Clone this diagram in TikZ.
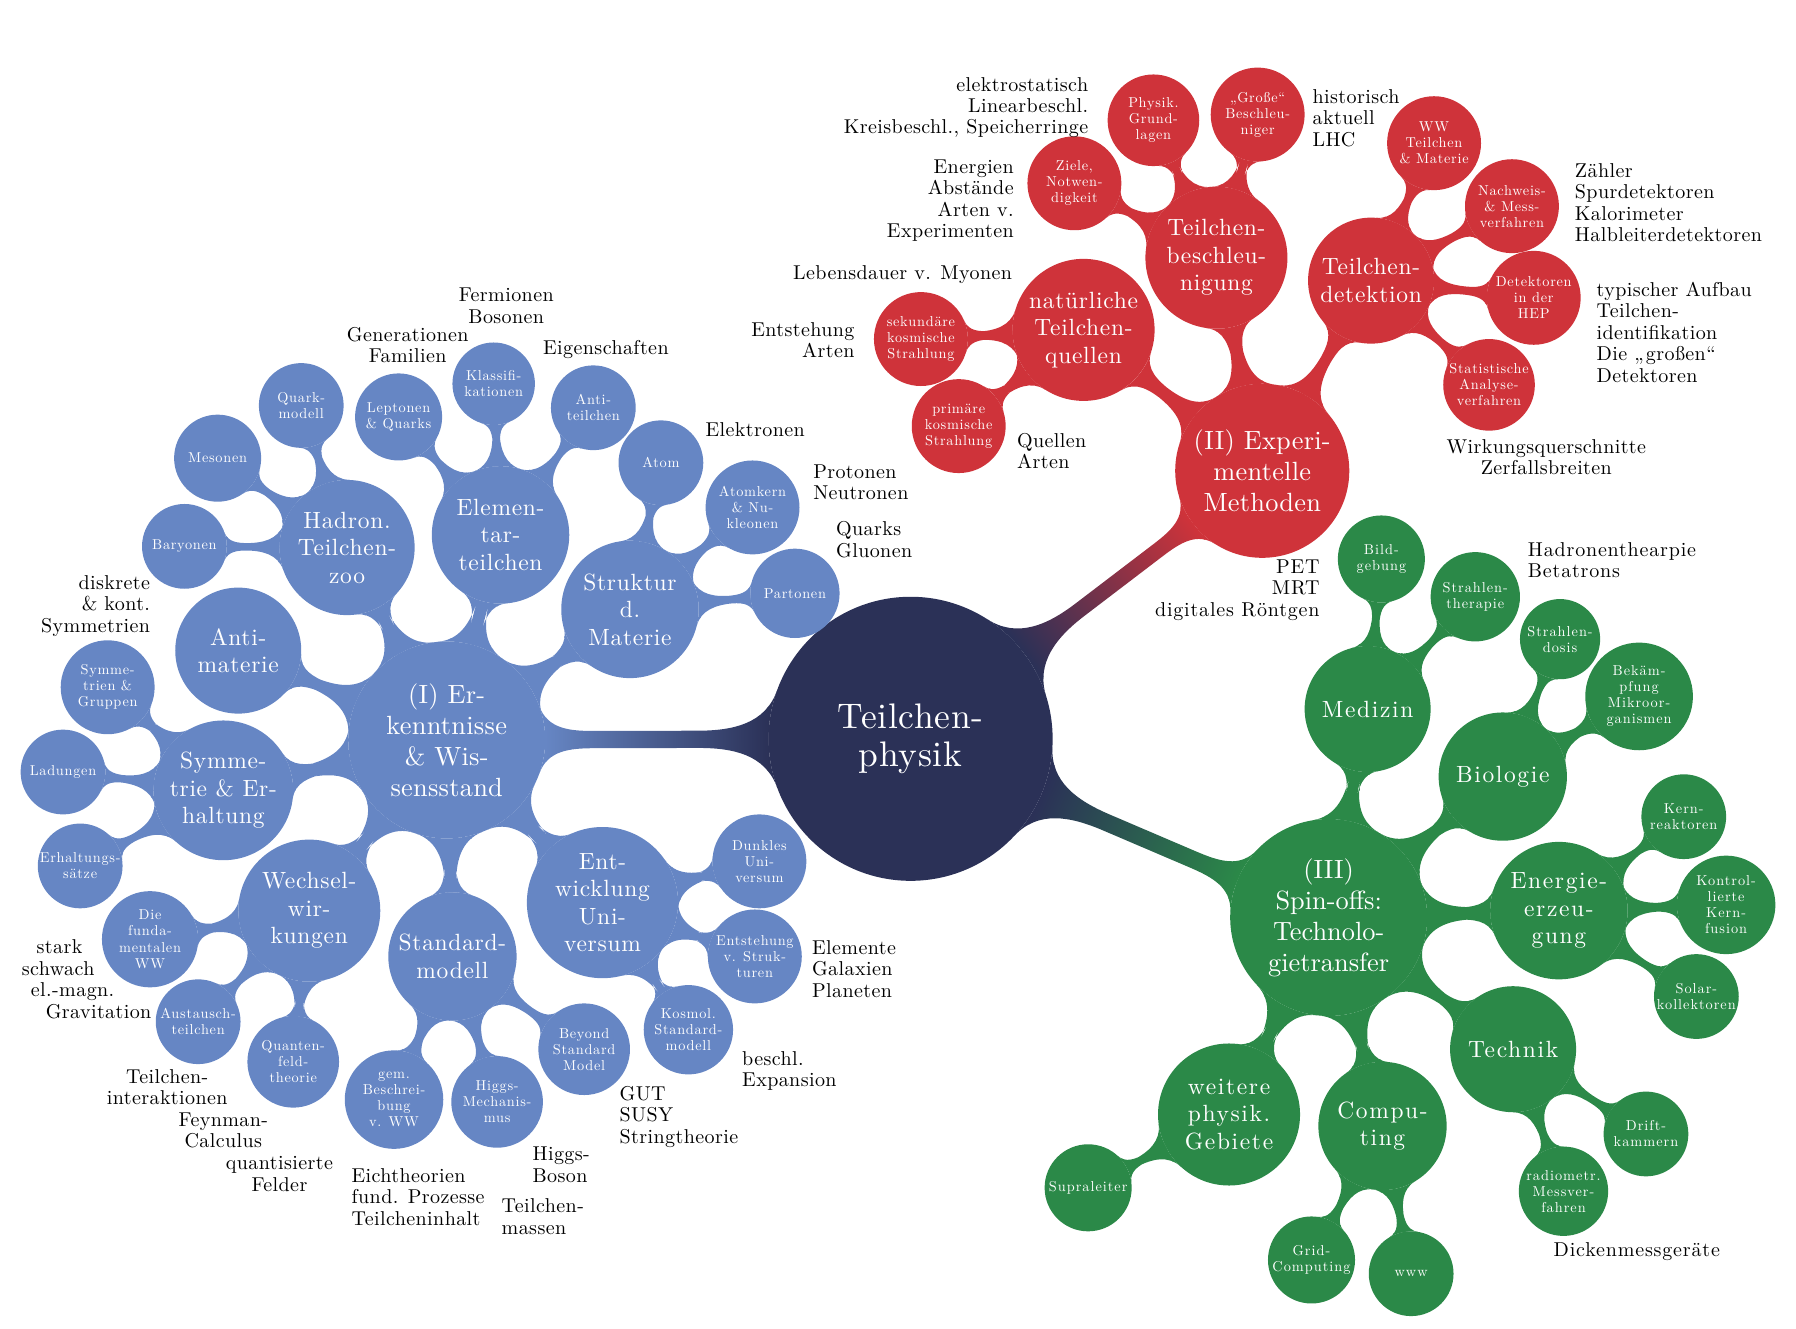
\documentclass[tikz,border=0pt]{standalone}
\usepackage{fontspec}
\setmainfont{lmroman10-regular.otf}
\usepackage{tikz}
\usetikzlibrary{mindmap}
\definecolor{navyc}{RGB}{43,49,87}
\definecolor{blueb}{RGB}{102,134,196}
\definecolor{redb}{RGB}{207,51,58}
\definecolor{greenb}{RGB}{43,137,72}
\newcommand\lsp[1]{\addfontfeatures{LetterSpace=#1}}
\tikzset{bub/.style={circle,inner sep=0pt,outer sep=0pt,align=center,text=white,text width={}}}
\tikzset{hub/.style={bub,minimum size=172pt,font=\fontsize{23}{27}\selectfont\lsp{1}}}
\tikzset{topic/.style={bub,minimum size=120pt,font=\fontsize{20.5}{24}\selectfont\lsp{3}}}
\tikzset{twig/.style={bub,minimum size=76pt,font=\fontsize{12.5}{14}\selectfont\lsp{5}}}
\tikzset{note/.style={inner sep=0pt,minimum size=0pt,text width={},font=\fontsize{17.5}{18.7}\selectfont\lsp{2}}}
\tikzset{gnote/.style={note,font=\fontsize{17.5}{18.7}\selectfont\lsp{4}}}
\tikzset{neck/.style={circle connection bar switch color=from (#1) to (#1)}}

\begin{document}
\begin{tikzpicture}[mindmap,x=1pt,y=-1pt]
\useasboundingbox (0,0) rectangle (1568,1160);

% Centre
\node[hub,fill=navyc,minimum size=248pt,font=\fontsize{31}{34}\selectfont\lsp{2}] (phys) at (795,645) {Teilchen-\\physik};

% (I) Erkenntnisse
\begin{scope}[bub/.append style={fill=blueb}]
\node[hub] (erk) at (390,646) {(I) Er-\\kenntnisse\\\& Wis-\\sensstand};
\node[topic,minimum size=118pt] (hadron) at (303,478) {Hadron.\\Teilchen-\\zoo};
\node[topic] (elem) at (437,467) {Elemen-\\tar-\\teilchen};
\node[topic] (struk) at (550,532) {Struktur\\d.\\Materie};
\node[topic,minimum size=110pt] (antim) at (208,568) {Anti-\\materie};
\node[topic,minimum size=122pt] (symm) at (195,690) {Symme-\\trie \& Er-\\haltung};
\node[topic,minimum size=124pt] (wechsel) at (270,795) {Wechsel-\\wir-\\kungen};
\node[topic,minimum size=112pt] (stdm) at (395,835) {Standard-\\modell};
\node[topic,minimum size=132pt] (entw) at (526,788) {Ent-\\wicklung\\Uni-\\versum};

\node[twig,minimum size=74pt] (quark) at (263,354) {Quark-\\modell};
\node[twig] (meson) at (190,400) {Mesonen};
\node[twig,minimum size=74pt] (baryon) at (161,477) {Baryonen};
\node[twig] (lepton) at (348,364) {Leptonen\\\& Quarks};
\node[twig,minimum size=72pt] (klass) at (431,335) {Klassifi-\\kationen};
\node[twig,minimum size=74pt] (antit) at (518,356) {Anti-\\teilchen};
\node[twig,minimum size=74pt] (atom) at (577,404) {Atom};
\node[twig,minimum size=82pt] (kern) at (657,443) {Atomkern\\\& Nu-\\kleonen};
\node[twig,minimum size=78pt] (parton) at (694,518) {Partonen};
\node[twig,minimum size=82pt] (symgr) at (94,600) {Symme-\\trien \&\\Gruppen};
\node[twig,minimum size=74pt] (ladung) at (55,674) {Ladungen};
\node[twig,minimum size=74pt] (erhalt) at (70,756) {Erhaltungs-\\sätze};
\node[twig,minimum size=84pt] (fund) at (131,820) {Die\\funda-\\mentalen\\WW};
\node[twig,minimum size=74pt] (austausch) at (173,892) {Austausch-\\teilchen};
\node[twig,minimum size=80pt] (qft) at (256,927) {Quanten-\\feld-\\theorie};
\node[twig,minimum size=86pt] (gem) at (344,960) {gem.\\Beschrei-\\bung\\v. WW};
\node[twig,minimum size=80pt] (higgs) at (434,962) {Higgs-\\Mechanis-\\mus};
\node[twig,minimum size=80pt] (bsm) at (510,916) {Beyond\\Standard\\Model};
\node[twig,minimum size=82pt] (dunkel) at (663,752) {Dunkles\\Uni-\\versum};
\node[twig,minimum size=82pt] (entst) at (659,835) {Entstehung\\v. Struk-\\turen};
\node[twig,minimum size=78pt] (kosmol) at (601,899) {Kosmol.\\Standard-\\modell};
\end{scope}

% (II) Experimentelle Methoden
\begin{scope}[bub/.append style={fill=redb}]
\node[hub,minimum size=152pt] (exp) at (1102,411) {(II) Experi-\\mentelle\\Methoden};
\node[topic,minimum size=124pt] (nat) at (946,288) {natürliche\\Teilchen-\\quellen};
\node[topic,minimum size=124pt] (beschl) at (1062,225) {Teilchen-\\beschleu-\\nigung};
\node[topic,minimum size=110pt] (detek) at (1197,245) {Teilchen-\\detektion};

\node[twig,minimum size=82pt] (sek) at (804,296) {sekundäre\\kosmische\\Strahlung};
\node[twig,minimum size=82pt] (prim) at (837,372) {primäre\\kosmische\\Strahlung};
\node[twig,minimum size=82pt] (ziele) at (938,160) {Ziele,\\Notwen-\\digkeit};
\node[twig,minimum size=80pt] (grund) at (1007,105) {Physik.\\Grund-\\lagen};
\node[twig,minimum size=82pt] (gross) at (1098,100) {„Große“\\Beschleu-\\niger};
\node[twig,minimum size=82pt] (wwtm) at (1252,125) {WW\\Teilchen\\\& Materie};
\node[twig,minimum size=82pt] (nachw) at (1320,180) {Nachweis-\\\& Mess-\\verfahren};
\node[twig,minimum size=82pt] (dethep) at (1339,260) {Detektoren\\in der\\HEP};
\node[twig,minimum size=80pt] (stat) at (1300,336) {Statistische\\Analyse-\\verfahren};
\end{scope}

% (III) Spin-offs
\begin{scope}[bub/.append style={fill=greenb},
  hub/.append style={font=\fontsize{23}{27}\selectfont},
  topic/.append style={font=\fontsize{20.5}{24}\selectfont\lsp{7}},
  twig/.append style={font=\fontsize{12.5}{14}\selectfont\lsp{7}}]
\node[hub] (spin) at (1160,801) {(III)\\Spin-offs:\\Technolo-\\gietransfer};
\node[topic,minimum size=110pt] (med) at (1194,619) {Medizin};
\node[topic,minimum size=112pt] (bio) at (1312,678) {Biologie};
\node[topic,minimum size=120pt] (energ) at (1361,795) {Energie-\\erzeu-\\gung};
\node[topic,minimum size=110pt] (tech) at (1321,916) {Technik};
\node[topic,minimum size=112pt] (comp) at (1207,983) {Compu-\\ting};
\node[topic,minimum size=124pt] (weit) at (1073,973) {weitere\\physik.\\Gebiete};

\node[twig] (bild) at (1206,488) {Bild-\\gebung};
\node[twig,minimum size=78pt] (therap) at (1288,521) {Strahlen-\\therapie};
\node[twig,minimum size=70pt] (dosis) at (1362,558) {Strahlen-\\dosis};
\node[twig,minimum size=94pt] (bekampf) at (1431,608) {Bekäm-\\pfung\\Mikroor-\\ganismen};
\node[twig,minimum size=74pt] (reakt) at (1470,713) {Kern-\\reaktoren};
\node[twig,minimum size=86pt] (fusion) at (1507,790) {Kontrol-\\lierte\\Kern-\\fusion};
\node[twig,minimum size=74pt] (solar) at (1481,870) {Solar-\\kollektoren};
\node[twig,minimum size=74pt] (drift) at (1437,990) {Drift-\\kammern};
\node[twig,minimum size=78pt] (radio) at (1365,1040) {radiometr.\\Messver-\\fahren};
\node[twig] (grid) at (1145,1100) {Grid-\\Computing};
\node[twig,minimum size=74pt] (www) at (1232,1112) {www};
\node[twig,minimum size=76pt] (supra) at (950,1037) {Supraleiter};
\end{scope}

% Connections from the centre
\begin{scope}[line width=16pt]
\path (phys) to[circle connection bar switch color=from (navyc) to (blueb)] (erk);
\path (phys) to[circle connection bar switch color=from (navyc) to (redb)] (exp);
\path (phys) to[circle connection bar switch color=from (navyc) to (greenb)] (spin);
\end{scope}

% Hub to topic
\begin{scope}[line width=20pt]
\path (erk) to[neck=blueb] (hadron);
\path (erk) to[neck=blueb] (elem);
\path (erk) to[neck=blueb] (struk);
\path (erk) to[neck=blueb] (antim);
\path (erk) to[neck=blueb] (symm);
\path (erk) to[neck=blueb] (wechsel);
\path (erk) to[neck=blueb] (stdm);
\path (erk) to[neck=blueb] (entw);
\path (exp) to[neck=redb] (nat);
\path (exp) to[neck=redb] (beschl);
\path (exp) to[neck=redb] (detek);
\path (spin) to[neck=greenb] (med);
\path (spin) to[neck=greenb] (bio);
\path (spin) to[neck=greenb] (energ);
\path (spin) to[neck=greenb] (tech);
\path (spin) to[neck=greenb] (comp);
\path (spin) to[neck=greenb] (weit);
\end{scope}

% Topic to twig
\begin{scope}[line width=11pt]
\path (hadron) to[neck=blueb] (quark);
\path (hadron) to[neck=blueb] (meson);
\path (hadron) to[neck=blueb] (baryon);
\path (elem) to[neck=blueb] (lepton);
\path (elem) to[neck=blueb] (klass);
\path (elem) to[neck=blueb] (antit);
\path (struk) to[neck=blueb] (atom);
\path (struk) to[neck=blueb] (kern);
\path (struk) to[neck=blueb] (parton);
\path (symm) to[neck=blueb] (symgr);
\path (symm) to[neck=blueb] (ladung);
\path (symm) to[neck=blueb] (erhalt);
\path (wechsel) to[neck=blueb] (fund);
\path (wechsel) to[neck=blueb] (austausch);
\path (wechsel) to[neck=blueb] (qft);
\path (stdm) to[neck=blueb] (gem);
\path (stdm) to[neck=blueb] (higgs);
\path (stdm) to[neck=blueb] (bsm);
\path (entw) to[neck=blueb] (dunkel);
\path (entw) to[neck=blueb] (entst);
\path (entw) to[neck=blueb] (kosmol);
\path (nat) to[neck=redb] (sek);
\path (nat) to[neck=redb] (prim);
\path (beschl) to[neck=redb] (ziele);
\path (beschl) to[neck=redb] (grund);
\path (beschl) to[neck=redb] (gross);
\path (detek) to[neck=redb] (wwtm);
\path (detek) to[neck=redb] (nachw);
\path (detek) to[neck=redb] (dethep);
\path (detek) to[neck=redb] (stat);
\path (med) to[neck=greenb] (bild);
\path (med) to[neck=greenb] (therap);
\path (bio) to[neck=greenb] (dosis);
\path (bio) to[neck=greenb] (bekampf);
\path (energ) to[neck=greenb] (reakt);
\path (energ) to[neck=greenb] (fusion);
\path (energ) to[neck=greenb] (solar);
\path (tech) to[neck=greenb] (drift);
\path (tech) to[neck=greenb] (radio);
\path (comp) to[neck=greenb] (grid);
\path (comp) to[neck=greenb] (www);
\path (weit) to[neck=greenb] (supra);
\end{scope}

% Labels (I)
\node[note,align=center] (nfermi) at (442,267) {Fermionen\\Bosonen};
\node[note,align=center] (ngener) at (356,301) {Generationen\\Familien};
\node[note] (neigen) at (529,305) {Eigenschaften};
\node[note,anchor=west] (nelek) at (616,375) {Elektronen};
\node[note,anchor=west,align=left] (nproton) at (710,421) {Protonen\\Neutronen};
\node[note,anchor=west,align=left] (nquark) at (730,471) {Quarks\\Gluonen};
\node[note,anchor=east,align=right] (nsym) at (131,529) {diskrete\\\& kont.\\Symmetrien};
\node[note,anchor=west,align=left] (nstark) at (19,855) {\hspace*{13pt}stark\\schwach\\\hspace*{8pt}el.-magn.\\\hspace*{21pt}Gravitation};
\node[note,align=center] (ninter) at (146,949) {Teilchen-\\interaktionen};
\node[note,align=center] (nfeyn) at (195,987) {Feynman-\\Calculus};
\node[note,align=center] (nfeld) at (244,1025) {quantisierte\\Felder};
\node[note,anchor=west,align=left] (neich) at (307,1045) {Eichtheorien\\fund. Prozesse\\Teilcheninhalt};
\node[note,anchor=west,align=left] (nboson) at (465,1017) {Higgs-\\Boson};
\node[note,anchor=west,align=left] (nmasse) at (438,1062) {Teilchen-\\massen};
\node[note,anchor=west,align=left] (ngut) at (541,975) {GUT\\SUSY\\Stringtheorie};
\node[note,anchor=west,align=left] (nexpan) at (648,935) {beschl.\\Expansion};
\node[note,anchor=west,align=left] (nelem) at (709,846) {Elemente\\Galaxien\\Planeten};

% Labels (II)
\node[note,anchor=east,align=right] (nlinear) at (950,94) {elektrostatisch\\Linearbeschl.\\Kreisbeschl., Speicherringe};
\node[note,anchor=west,align=left] (nhist) at (1146,103) {historisch\\aktuell\\LHC};
\node[note,anchor=east,align=right] (nenerg) at (885,175) {Energien\\Abstände\\Arten v.\\Experimenten};
\node[note] (nmyon) at (788,240) {Lebensdauer v. Myonen};
\node[note,anchor=east,align=right] (narten) at (746,297) {Entstehung\\Arten};
\node[note,anchor=west,align=left] (nquell) at (888,394) {Quellen\\Arten};
\node[note,anchor=west,align=left] (nzahl) at (1375,177) {Zähler\\Spurdetektoren\\Kalorimeter\\Halbleiterdetektoren};
\node[note,anchor=west,align=left] (naufbau) at (1394,290) {typischer Aufbau\\Teilchen-\\identifikation\\Die „großen“\\Detektoren};
\node[note,align=center] (nwirk) at (1350,399) {Wirkungsquerschnitte\\Zerfallsbreiten};

% Labels (III)
\node[gnote,anchor=west,align=left] (nhadr) at (1334,489) {Hadronenthearpie\\Betatrons};
\node[gnote,anchor=east,align=right] (npet) at (1152,515) {PET\\MRT\\digitales Röntgen};
\node[gnote] (ndicke) at (1429,1093) {Dickenmessgeräte};
\end{tikzpicture}
\end{document}
